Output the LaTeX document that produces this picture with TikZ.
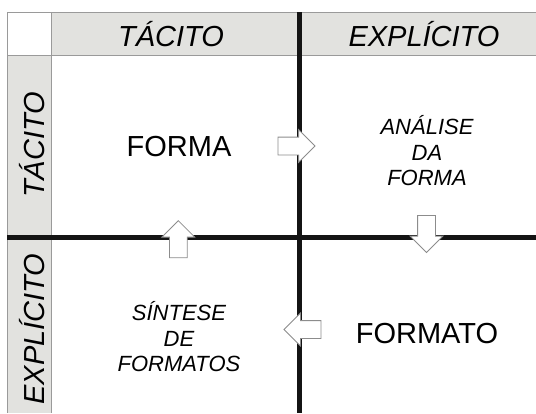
\documentclass[tikz,border=0pt]{standalone}
\usepackage{fontspec}
\setmainfont{Liberation Sans}
\usepackage{tikz}
\usepackage{xcolor}
\usetikzlibrary{shapes.arrows}
\definecolor{headgray}{HTML}{E2E2DF}
\definecolor{framegray}{HTML}{9A9A9A}

\begin{document}
\begin{tikzpicture}[x=1pt, y=-1pt,
    title/.style={font=\fontsize{29}{34}\selectfont\itshape, inner sep=0pt, anchor=base},
    big/.style={font=\fontsize{29}{34}\selectfont, inner sep=0pt, anchor=base},
    small/.style={font=\fontsize{22}{25.5}\selectfont\itshape, inner sep=0pt, align=center},
    blockarrow/.style={single arrow, draw=black!45, fill=white, line width=0.8pt,
        single arrow head extend=7.5pt, inner sep=8.5pt, minimum height=37pt, outer sep=0pt, anchor=tip},
    axis/.style={line width=5pt, black!92},
    frame/.style={framegray, line width=1pt}]

        \useasboundingbox (0,0) rectangle (536,413);

        % grey header row and column
        \fill[headgray] (51,12) rectangle (536,55);
        \fill[headgray] (7,55) rectangle (51,413);
        \draw[frame] (536,12) -- (7,12) -- (7,413);
        \draw[frame] (51,12) -- (51,413);
        \draw[frame] (7,55) -- (536,55);

        % the two axes
        \draw[axis] (299,12) -- (299,413);
        \draw[axis] (7,237) -- (536,237);

        \node[title] (colt) at (171,46) {TÁCITO};
        \node[title] (cole) at (424,46) {EXPLÍCITO};
        \node[title, rotate=90] (rowt) at (45,145) {TÁCITO};
        \node[title, rotate=90] (rowe) at (44,329) {EXPLÍCITO};

        \node[big] (forma) at (179,156.5) {FORMA};
        \node[big] (formato) at (427,343) {FORMATO};
        \node[small] (analise) at (427,151) {ANÁLISE\\DA\\FORMA};
        \node[small] (sintese) at (179,337) {SÍNTESE\\DE\\FORMATOS};

        % block arrows, placed by their tips
        \node[blockarrow] (toright) at (315,146) {};
        \node[blockarrow, rotate=-90] (todown) at (426.5,252.5) {};
        \node[blockarrow, rotate=180] (toleft) at (284,329.5) {};
        \node[blockarrow, rotate=90] (toup) at (178.3,220.7) {};
        \end{tikzpicture}
\end{document}
